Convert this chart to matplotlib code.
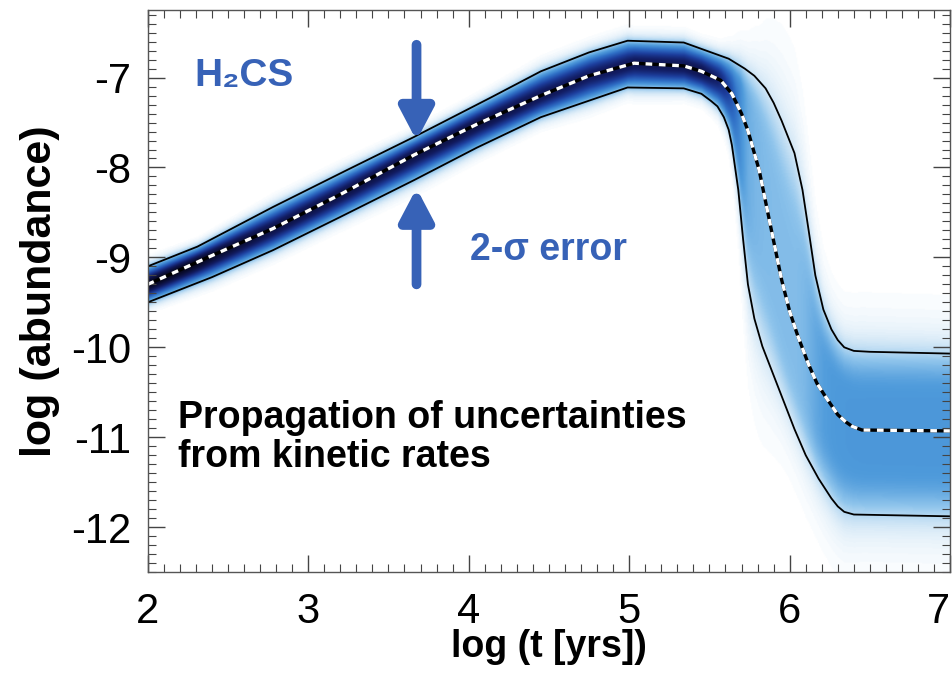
import numpy as np
import matplotlib
matplotlib.use("Agg")
import matplotlib.pyplot as plt
from matplotlib.colors import LinearSegmentedColormap

FONT = ['Liberation Sans Narrow', 'Liberation Sans', 'DejaVu Sans']
plt.rcParams['font.family'] = FONT
plt.rcParams['axes.unicode_minus'] = False

# curves: log t, log abundance
med_x = [2.0, 2.4, 2.78, 3.2, 3.66, 4.05, 4.45, 4.75, 5.03, 5.34, 5.45, 5.57, 5.64,
         5.70, 5.74, 5.81, 5.89, 5.95, 6.0, 6.05, 6.12, 6.17, 6.22, 6.30, 6.35, 6.39,
         6.45, 7.0]
med_y = [-9.30, -8.98, -8.68, -8.30, -7.86, -7.52, -7.20, -6.98, -6.84, -6.87, -6.93,
         -7.03, -7.18, -7.40, -7.59, -8.03, -8.73, -9.25, -9.60, -9.87, -10.20, -10.40,
         -10.54, -10.75, -10.83, -10.88, -10.92, -10.93]

up_x = [2.0, 2.31, 2.78, 3.24, 3.66, 4.14, 4.45, 4.75, 4.99, 5.34, 5.62, 5.72, 5.78,
        5.85, 5.90, 5.95, 6.03, 6.08, 6.12, 6.16, 6.21, 6.26, 6.30, 6.34, 6.40, 6.5, 7.0]
up_y = [-9.10, -8.88, -8.44, -8.03, -7.66, -7.22, -6.93, -6.72, -6.59, -6.61, -6.79,
        -6.90, -6.98, -7.12, -7.28, -7.48, -7.84, -8.25, -8.72, -9.20, -9.58, -9.80,
        -9.92, -10.00, -10.04, -10.05, -10.07]

lo_x = [2.0, 2.4, 2.78, 3.2, 3.66, 4.05, 4.45, 4.99, 5.34, 5.45, 5.51, 5.55, 5.59,
        5.62, 5.64, 5.66, 5.68, 5.71, 5.74, 5.78, 5.83, 5.93, 6.03, 6.10, 6.18, 6.26,
        6.30, 6.34, 6.40, 7.0]
lo_y = [-9.50, -9.22, -8.92, -8.55, -8.14, -7.78, -7.44, -7.11, -7.12, -7.18, -7.26,
        -7.32, -7.44, -7.58, -7.75, -8.00, -8.25, -8.80, -9.30, -9.68, -9.99, -10.45,
        -10.91, -11.20, -11.46, -11.68, -11.77, -11.83, -11.86, -11.88]

# density map built from the curves (2-sigma band around the median)
gx = np.linspace(2, 7, 700)
gy = np.linspace(-12.5, -6.25, 600)
m = np.interp(gx, med_x, med_y)
u = np.interp(gx, up_x, up_y)
l = np.interp(gx, lo_x, lo_y)
su = np.maximum((u - m) / 2, 0.03)
sl = np.maximum((m - l) / 2, 0.03)
sig = 0.5 * (su + sl)
Y = gy[:, None]
z = np.where(Y > m, (Y - m) / su, (m - Y) / sl)
w = np.clip((sig - 0.1) / 0.3, 0, 1)
shape = (1 - w) * np.exp(-0.5 * z ** 2) + w / (1.0 + (np.abs(z) / 1.8) ** 6)
dens = shape / sig
dens = dens / dens.max()

cmap = LinearSegmentedColormap.from_list('h2cs', [
    (0.0, '#ffffff'), (0.008, '#f4f9fd'), (0.04, '#d6e9f7'), (0.11, '#90c5ec'),
    (0.21, '#4f9bdb'), (0.34, '#2f6fc6'), (0.52, '#1d3f9e'), (0.72, '#121c62'),
    (1.0, '#06061e')])

fig = plt.figure(figsize=(9.53, 6.77), dpi=100)
ax = fig.add_axes([0.155, 0.155, 0.842, 0.83])
ax.imshow(dens, extent=[2, 7, -12.5, -6.25], origin='lower', aspect='auto',
          cmap=cmap, vmin=0, vmax=1, interpolation='bilinear')

ax.plot(up_x, up_y, color='black', lw=1.3)
ax.plot(lo_x, lo_y, color='black', lw=1.3)
ax.plot(med_x, med_y, color='black', lw=2.4)
ax.plot(med_x, med_y, color='white', lw=2.4, dashes=(2.0, 2.0))

blue = '#3762b7'
ax.annotate('', xy=(3.675, -7.70), xytext=(3.675, -6.635),
            arrowprops=dict(arrowstyle='-|>,head_width=1.0,head_length=1.9',
                            color=blue, lw=7, shrinkA=0, shrinkB=0))
ax.annotate('', xy=(3.675, -8.23), xytext=(3.675, -9.30),
            arrowprops=dict(arrowstyle='-|>,head_width=1.0,head_length=1.9',
                            color=blue, lw=7, shrinkA=0, shrinkB=0))

ax.text(2.29, -6.98, 'H\u2082CS', color=blue, fontsize=28, fontweight='bold',
        va='center', ha='left', family=FONT)
ax.text(4.01, -8.92, '2-\u03c3 error', color=blue, fontsize=27, fontweight='bold',
        va='center', ha='left', family=FONT)
ax.text(2.19, -11.0, 'Propagation of uncertainties\nfrom kinetic rates', color='black',
        fontsize=27, fontweight='bold', va='center', ha='left', linespacing=1.1,
        family=FONT)

ax.set_xlim(2, 7)
ax.set_ylim(-12.5, -6.25)
ax.set_xticks([2, 3, 4, 5, 6, 7])
ax.set_yticks([-12, -11, -10, -9, -8, -7])
ax.set_xticks(np.arange(2, 7.01, 0.1), minor=True)
ax.set_yticks(np.arange(-12.5, -6.2, 0.1), minor=True)
ax.tick_params(which='both', direction='in', top=True, right=True, color='#444444')
ax.tick_params(which='major', length=12, width=1, labelsize=30)
ax.tick_params(which='minor', length=6, width=0.8)
ax.tick_params(axis='x', pad=14)
ax.tick_params(axis='y', pad=12)
ax.get_xticklabels()[-1].set_horizontalalignment('right')
for s in ax.spines.values():
    s.set_color('#555555')
    s.set_linewidth(1)

ax.set_xlabel('log (t [yrs])', fontsize=27, fontweight='bold', labelpad=-2)
ax.set_ylabel('log (abundance)', fontsize=31, fontweight='bold', labelpad=8)

fig.savefig('out.png', dpi=100)
